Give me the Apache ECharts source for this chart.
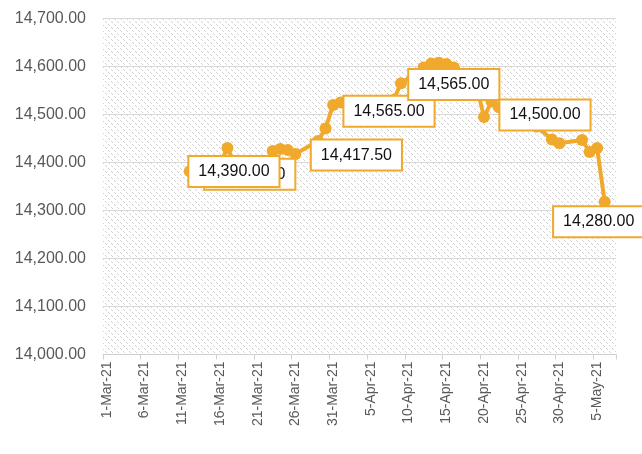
<!DOCTYPE html>
<html>
<head>
<meta charset="utf-8">
<script src="https://cdn.jsdelivr.net/npm/echarts@6/dist/echarts.min.js"></script>
<style>
html,body{margin:0;padding:0;background:#fff;}
#c{width:642px;height:454px;}
</style>
</head>
<body>
<div id="c"></div>
<script>
// ---- data ----
const dates = ['12-Mar-21','15-Mar-21','16-Mar-21','17-Mar-21','18-Mar-21','19-Mar-21',
  '22-Mar-21','23-Mar-21','24-Mar-21','25-Mar-21','26-Mar-21',
  '29-Mar-21','30-Mar-21','31-Mar-21','1-Apr-21',
  '5-Apr-21','6-Apr-21','7-Apr-21','8-Apr-21','9-Apr-21',
  '12-Apr-21','13-Apr-21','14-Apr-21','15-Apr-21','16-Apr-21',
  '19-Apr-21','20-Apr-21','21-Apr-21','22-Apr-21','23-Apr-21',
  '26-Apr-21','27-Apr-21','29-Apr-21','30-Apr-21',
  '3-May-21','4-May-21','5-May-21','6-May-21'];
const values = [14382,14392,14398,14430,14395,14390,
  14392,14424,14428,14426,14417.5,
  14445,14471,14520,14525,
  14520,14515,14522,14530,14565,
  14598,14606,14608,14605,14598,
  14560,14495,14527,14515,14500,
  14485,14475,14448,14440,
  14447,14422,14430,14318];
const labelDates = ['12-Mar-21','16-Mar-21','26-Mar-21','9-Apr-21','16-Apr-21','20-Apr-21','6-May-21'];
const labelTexts = ['14,380.00','14,390.00','14,417.50','14,565.00','14,565.00','14,500.00','14,280.00'];
const yTickLabels = ['14,000.00','14,100.00','14,200.00','14,300.00','14,400.00','14,500.00','14,600.00','14,700.00'];
const yMin = 14000, yMax = 14700, yStep = 100;
const monthNames = ['Mar','Apr','May'];
const monthLengths = [31,30,31];
const axisDayCount = 68; // 1-Mar-21 .. 7-May-21

// ---- styles ----
const ORANGE = '#F0A92A';
const labelOffsets = [[60,3],[14,8],[61,1],[-12,28],[0,17],[61,-2],[-6,20]];

// build category axis (one slot per calendar day)
const categories = [];
for (let m = 0, n = 0; m < monthNames.length && n < axisDayCount; m++) {
  for (let d = 1; d <= monthLengths[m] && n < axisDayCount; d++, n++) {
    categories.push(d + '-' + monthNames[m] + '-21');
  }
}

// hatch pattern for plot background
const T = 12;
const pc = document.createElement('canvas');
pc.width = T; pc.height = T;
const pctx = pc.getContext('2d');
pctx.fillStyle = '#ffffff';
pctx.fillRect(0,0,T,T);
const img = pctx.getImageData(0,0,T,T);
for (let x = 0; x < T; x++) {
  for (const off of [0,6]) {
    const y = (x + off) % T;
    if ((x % 3) === 2) continue;
    const k = (y*T + x)*4;
    img.data[k] = 210; img.data[k+1] = 210; img.data[k+2] = 210; img.data[k+3] = 255;
  }
}
pctx.putImageData(img,0,0);

const seriesData = dates.map((d, i) => {
  const li = labelDates.indexOf(d);
  const item = { value: [d, values[i]] };
  if (li >= 0) {
    item.label = {
      show: true,
      position: 'inside',
      offset: labelOffsets[li],
      formatter: labelTexts[li],
      fontFamily: 'Liberation Sans',
      fontSize: 16,
      color: '#111',
      backgroundColor: '#fff',
      borderColor: ORANGE,
      borderWidth: 2,
      padding: [6, 9, 5, 9],
      lineHeight: 18
    };
  }
  return item;
});

const chart = echarts.init(document.getElementById('c'), null, {renderer: 'canvas'});
chart.setOption({
  animation: false,
  grid: {
    left: 103, right: 26, top: 18.5, bottom: 99.5,
    show: true,
    borderWidth: 0,
    backgroundColor: {image: pc, repeat: 'repeat'}
  },
  xAxis: {
    type: 'category',
    data: categories,
    boundaryGap: true,
    axisLine: {lineStyle: {color: '#d0d0d0', width: 1}},
    axisTick: {show: true, interval: 4, length: 5, lineStyle: {color: '#d0d0d0'}},
    axisLabel: {
      interval: 4, rotate: 90, margin: 7,
      fontFamily: 'Liberation Sans', fontSize: 14, color: '#595959'
    },
    splitLine: {show: false}
  },
  yAxis: {
    type: 'value',
    min: yMin, max: yMax, interval: yStep,
    axisLine: {show: false},
    axisTick: {show: false},
    axisLabel: {
      margin: 17,
      fontFamily: 'Liberation Sans', fontSize: 16, color: '#595959',
      formatter: v => yTickLabels[Math.round((v - yMin) / yStep)]
    },
    splitLine: {lineStyle: {color: '#d9d9d9', width: 1}}
  },
  series: [{
    type: 'line',
    data: seriesData,
    symbol: 'circle',
    symbolSize: 12,
    showAllSymbol: true,
    lineStyle: {color: ORANGE, width: 4},
    itemStyle: {color: ORANGE},
    emphasis: {disabled: true},
    label: {show: false}
  }]
});
</script>
</body>
</html>
